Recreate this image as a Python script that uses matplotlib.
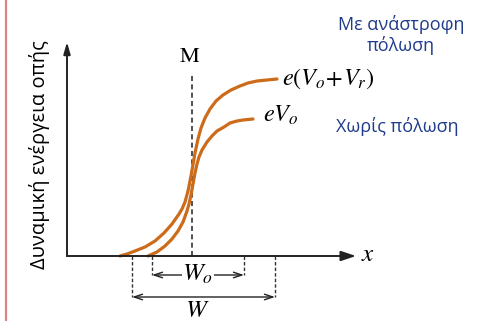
import matplotlib
matplotlib.use("Agg")
import matplotlib.pyplot as plt

plt.rcParams['mathtext.fontset'] = 'stix'

# potential energy profile across the junction (arbitrary units, origin at axes corner)
biased_x = [53, 60, 68, 78, 88, 97, 105, 112, 115, 118, 121, 124, 128, 131, 134, 138, 143, 149, 156, 164, 173, 181, 190, 200, 210]
biased_y = [0, 2, 5, 9, 15, 23, 32, 42, 47, 54, 65, 80, 103, 117, 128, 138, 147, 155, 161, 166, 170, 173, 175, 176, 177]
unbiased_x = [81, 90, 98, 105, 111, 116, 120, 122, 124, 126, 128, 130, 132, 135, 140, 145, 150, 157, 163, 170, 176, 186]
unbiased_y = [0, 4, 10, 17, 25, 34, 45, 52, 61, 72, 83, 92, 99, 106, 114, 120, 125, 129, 133, 135, 136, 137]

junction_x = 125          # metallurgical junction M
x_axis_end = 289
y_axis_end = 214
w0_edges = [85, 177]      # depletion width without bias
w_edges = [65, 208]       # depletion width under reverse bias

orange = '#cc6b1a'
navy = '#1f3b8a'

fig = plt.figure(figsize=(4.88, 3.21), dpi=100)
ax = fig.add_axes([0, 0, 1, 1])
ax.set_xlim(-67, 421)
ax.set_ylim(-65, 256)
ax.axis('off')

# page edge line
ax.axvline(-61, color='#d98585', lw=1.6)

# axes with arrow heads
ax.annotate('', xy=(x_axis_end, 0), xytext=(0, 0),
            arrowprops=dict(arrowstyle='-|>,head_length=0.9,head_width=0.3', color='#222222', lw=1.4,
                            shrinkA=0, shrinkB=0))
ax.annotate('', xy=(0, y_axis_end), xytext=(0, 0),
            arrowprops=dict(arrowstyle='-|>,head_length=0.7,head_width=0.2', color='#222222', lw=1.4,
                            shrinkA=0, shrinkB=0))
ax.text(x_axis_end + 5, 2, '$x$', fontsize=18, ha='left', va='center')

# junction marker
ax.plot([junction_x, junction_x], [0, 181], color='#333333', lw=1.2, ls=(0, (3, 2)))
ax.text(junction_x - 2, 199, 'M', family='STIXGeneral', fontsize=16, ha='center', va='center')

# band curves
ax.plot(biased_x, biased_y, color=orange, lw=2.3, solid_joinstyle='round', solid_capstyle='round')
ax.plot(unbiased_x, unbiased_y, color=orange, lw=2.3, solid_joinstyle='round', solid_capstyle='round')
ax.text(biased_x[-1] + 5, 177, '$e(V_o\\!+\\!V_r)$', fontsize=17.5, ha='left', va='center')
ax.text(unbiased_x[-1] + 10, 141, '$eV_o$', fontsize=17.5, ha='left', va='center')

# depletion widths
for edges, depth in [(w0_edges, -19), (w_edges, -41)]:
    for xe in edges:
        ax.plot([xe, xe], [0, depth], color='#333333', lw=1.0, ls=(0, (2.5, 1.5)))
    ax.annotate('', xy=(edges[1], depth), xytext=(edges[0], depth),
                arrowprops=dict(arrowstyle='<->,head_length=0.6,head_width=0.2', color='#222222', lw=1.0,
                                shrinkA=0, shrinkB=0))
ax.text(131, -18, '$W_o$', fontsize=18, ha='center', va='center',
        bbox=dict(facecolor='white', edgecolor='none', pad=0.5))
ax.text(130, -54, '$W$', fontsize=18, ha='center', va='center')

# axis title and annotations
ax.text(-27, 101, 'Δυναμική ενέργεια οπής', rotation=90, fontsize=14.5,
        family='Open Sans', ha='center', va='center')
ax.text(334, 221, 'Με ανάστροφη\nπόλωση', fontsize=13, family='Open Sans', color=navy,
        ha='center', va='center', linespacing=1.15)
ax.text(330, 130, 'Χωρίς πόλωση', fontsize=13, family='Open Sans', color=navy,
        ha='center', va='center')

fig.savefig('out.png', dpi=100)
